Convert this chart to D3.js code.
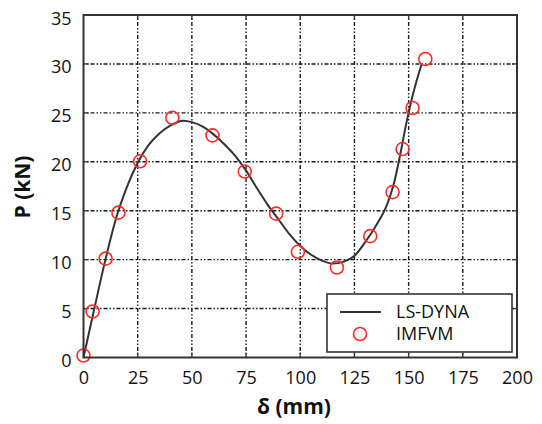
<!doctype html>
<html lang="en">
<head>
    <meta charset="UTF-8">
    <title>P-δ</title>
    <script src="https://cdn.jsdelivr.net/npm/d3@7"></script>
    <style>
        body { margin: 0; background: #fff; }
        text { font-family: "Open Sans", sans-serif; fill: #111; }
    </style>
</head>
<body>
<div class="canvas"></div>
<script>
  // LS-DYNA curve (δ in mm, P in kN)
  const dynaDelta = [0, 5, 10, 15, 20, 25, 30, 35, 40, 46, 50, 55, 60, 65, 70, 75, 80, 85, 90, 95, 100, 105, 110, 115, 120, 125, 130, 135, 140, 143, 146, 149, 152, 156];
  const dynaP     = [0, 5, 9.9, 14.2, 17.4, 19.9, 21.7, 22.9, 23.7, 24.2, 24.05, 23.6, 22.8, 21.8, 20.6, 19.1, 17.3, 15.6, 14.1, 12.6, 11.4, 10.5, 9.9, 9.6, 9.8, 10.4, 11.8, 13.5, 15.6, 17.6, 20.6, 24.0, 26.9, 30.0];

  // IMFVM points
  const imfvmDelta = [0, 4.2, 10.2, 16.1, 26.1, 41, 59.5, 74.4, 88.9, 98.9, 116.9, 132.3, 142.6, 147.2, 151.8, 157.7];
  const imfvmP     = [0.2, 4.7, 10.1, 14.8, 20.05, 24.5, 22.7, 19.0, 14.7, 10.8, 9.2, 12.4, 16.9, 21.3, 25.5, 30.5];

  const xTicks = [0, 25, 50, 75, 100, 125, 150, 175, 200];
  const yTicks = [0, 5, 10, 15, 20, 25, 30, 35];

  const svg = d3.select('.canvas').append('svg')
    .attr('width', 542)
    .attr('height', 424);

  let [mt, mr, mb, ml] = [15, 25, 66.5, 83.5];
  const graphWidth = 542 - ml - mr;
  const graphHeight = 424 - mt - mb;

  const graph = svg.append('g')
    .attr('transform', `translate(${ml}, ${mt})`);

  const x = d3.scaleLinear().domain([0, 200]).range([0, graphWidth]);
  const y = d3.scaleLinear().domain([0, 35]).range([graphHeight, 0]);

  // grid
  const grid = graph.append('g').attr('class', 'grid');
  grid.selectAll('.gx')
    .data(xTicks.slice(1, -1))
    .enter().append('line')
    .attr('x1', d => x(d)).attr('x2', d => x(d))
    .attr('y1', 0).attr('y2', graphHeight);
  grid.selectAll('.gy')
    .data(yTicks.slice(1, -1))
    .enter().append('line')
    .attr('y1', d => y(d)).attr('y2', d => y(d))
    .attr('x1', 0).attr('x2', graphWidth);
  grid.selectAll('line')
    .attr('stroke', '#1a1a1a')
    .attr('stroke-width', 1.4)
    .attr('stroke-dasharray', '1.5,2,1.5,2,4,2');

  // inward ticks on all sides
  const tickLen = 5;
  const ticks = graph.append('g').attr('stroke', '#333').attr('stroke-width', 1.3);
  xTicks.slice(1, -1).forEach(d => {
    ticks.append('line').attr('x1', x(d)).attr('x2', x(d)).attr('y1', graphHeight).attr('y2', graphHeight - tickLen);
    ticks.append('line').attr('x1', x(d)).attr('x2', x(d)).attr('y1', 0).attr('y2', tickLen);
  });
  yTicks.slice(1, -1).forEach(d => {
    ticks.append('line').attr('y1', y(d)).attr('y2', y(d)).attr('x1', 0).attr('x2', tickLen);
    ticks.append('line').attr('y1', y(d)).attr('y2', y(d)).attr('x1', graphWidth).attr('x2', graphWidth - tickLen);
  });

  // tick labels via d3 axes
  const xAxis = d3.axisBottom(x).tickValues(xTicks).tickSize(0).tickPadding(14);
  const yAxis = d3.axisLeft(y).tickValues(yTicks).tickSize(0).tickPadding(12);

  const xAxisG = graph.append('g')
    .attr('transform', `translate(0, ${graphHeight})`)
    .call(xAxis);
  const yAxisG = graph.append('g').call(yAxis);

  [xAxisG, yAxisG].forEach(g => {
    g.select('.domain').remove();
    g.selectAll('text')
      .style('font-size', '18px')
      .style('font-family', '"Open Sans", sans-serif')
      .attr('fill', '#111');
  });
  yAxisG.selectAll('text').attr('dy', '0.5em');

  // curve
  const line = d3.line()
    .x(d => x(d[0]))
    .y(d => y(d[1]))
    .curve(d3.curveMonotoneX);

  graph.append('path')
    .datum(dynaDelta.map((d, i) => [d, dynaP[i]]))
    .attr('d', line)
    .attr('fill', 'none')
    .attr('stroke', '#333')
    .attr('stroke-width', 2);

  graph.selectAll('circle.pt')
    .data(imfvmDelta.map((d, i) => [d, imfvmP[i]]))
    .enter().append('circle')
    .attr('class', 'pt')
    .attr('cx', d => x(d[0]))
    .attr('cy', d => y(d[1]))
    .attr('r', 6.5)
    .attr('fill', 'none')
    .attr('stroke', '#ff2a2a')
    .attr('stroke-width', 1.6);

  // frame
  graph.append('rect')
    .attr('width', graphWidth)
    .attr('height', graphHeight)
    .attr('fill', 'none')
    .attr('stroke', '#333')
    .attr('stroke-width', 2);

  // axis titles
  svg.append('text')
    .attr('x', 294)
    .attr('y', 414)
    .attr('text-anchor', 'middle')
    .style('font-size', '21px')
    .style('font-weight', 'bold')
    .text('δ (mm)');

  svg.append('text')
    .attr('transform', 'translate(30, 187) rotate(-90)')
    .attr('text-anchor', 'middle')
    .style('font-size', '21px')
    .style('font-weight', 'bold')
    .text('P (kN)');

  // legend
  const legend = svg.append('g').attr('transform', 'translate(327, 294)');
  legend.append('rect')
    .attr('width', 185)
    .attr('height', 58)
    .attr('fill', '#fff')
    .attr('stroke', '#333')
    .attr('stroke-width', 1.6);
  legend.append('line')
    .attr('x1', 13).attr('x2', 54)
    .attr('y1', 18).attr('y2', 18)
    .attr('stroke', '#333')
    .attr('stroke-width', 2);
  legend.append('circle')
    .attr('cx', 33).attr('cy', 40).attr('r', 6.5)
    .attr('fill', 'none')
    .attr('stroke', '#ff2a2a')
    .attr('stroke-width', 1.6);
  legend.append('text')
    .attr('x', 69).attr('y', 18).attr('dy', '0.35em')
    .style('font-size', '18px')
    .text('LS-DYNA');
  legend.append('text')
    .attr('x', 69).attr('y', 40).attr('dy', '0.35em')
    .style('font-size', '18px')
    .text('IMFVM');
</script>
</body>
</html>
